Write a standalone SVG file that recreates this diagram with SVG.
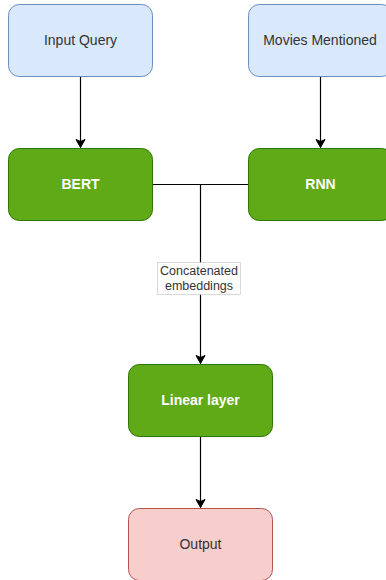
<svg xmlns="http://www.w3.org/2000/svg" width="386" height="580" viewBox="0 0 386 580">
<style>
.blue{fill:#dae8fc;stroke:#6c8ebf;stroke-width:1}
.green{fill:#60a917;stroke:#2d7600;stroke-width:1}
.red{fill:#f8cecc;stroke:#b85450;stroke-width:1}
.t{font-family:"Liberation Sans",Arial,sans-serif;font-size:14px;text-anchor:middle;dominant-baseline:central;fill:#333333}
.tw{font-family:"Liberation Sans",Arial,sans-serif;font-size:14px;font-weight:bold;text-anchor:middle;dominant-baseline:central;fill:#ffffff}
.tl{font-family:"Liberation Sans",Arial,sans-serif;font-size:12.5px;text-anchor:middle;dominant-baseline:central;fill:#333333}
.c{fill:none;stroke:#000000;stroke-width:1.2}
</style>
<defs>
<marker id="arr" markerWidth="12" markerHeight="12" refX="9" refY="6" orient="auto" markerUnits="userSpaceOnUse">
<path d="M1,1.5 L9,6 L1,10.5 L3,6 Z" fill="#000000" stroke="#000000" stroke-width="1"/>
</marker>
</defs>
<rect width="386" height="580" fill="#ffffff"/>
<g id="connectors">
<path class="c" d="M80.5,76.5 V147.5" marker-end="url(#arr)"/>
<path class="c" d="M320.5,76.5 V147.5" marker-end="url(#arr)"/>
<path class="c" d="M152.5,184.5 H248.5"/>
<path class="c" d="M200.5,184.5 V363.5" marker-end="url(#arr)"/>
<path class="c" d="M200.5,436.5 V507.5" marker-end="url(#arr)"/>
<rect x="157.5" y="262.5" width="83" height="32" fill="#ffffff" stroke="#c0c0c0" stroke-width="0.6"/>
<text class="tl" x="199" y="270.5">Concatenated</text>
<text class="tl" x="199" y="285.5">embeddings</text>
</g>
<g id="input-query">
<rect class="blue" x="8.5" y="4.5" width="144" height="72" rx="10.8"/>
<text class="t" x="80.5" y="40">Input Query</text>
</g>
<g id="movies-mentioned">
<rect class="blue" x="248.5" y="4.5" width="144" height="72" rx="10.8"/>
<text class="t" x="320" y="40">Movies Mentioned</text>
</g>
<g id="bert">
<rect class="green" x="8.5" y="148.5" width="144" height="72" rx="10.8"/>
<text class="tw" x="80.5" y="184">BERT</text>
</g>
<g id="rnn">
<rect class="green" x="248.5" y="148.5" width="144" height="72" rx="10.8"/>
<text class="tw" x="320.5" y="184">RNN</text>
</g>
<g id="linear-layer">
<rect class="green" x="128.5" y="364.5" width="144" height="72" rx="10.8"/>
<text class="tw" x="200.5" y="400">Linear layer</text>
</g>
<g id="output">
<rect class="red" x="128.5" y="508.5" width="144" height="72" rx="10.8"/>
<text class="t" x="200.5" y="544">Output</text>
</g>
</svg>
